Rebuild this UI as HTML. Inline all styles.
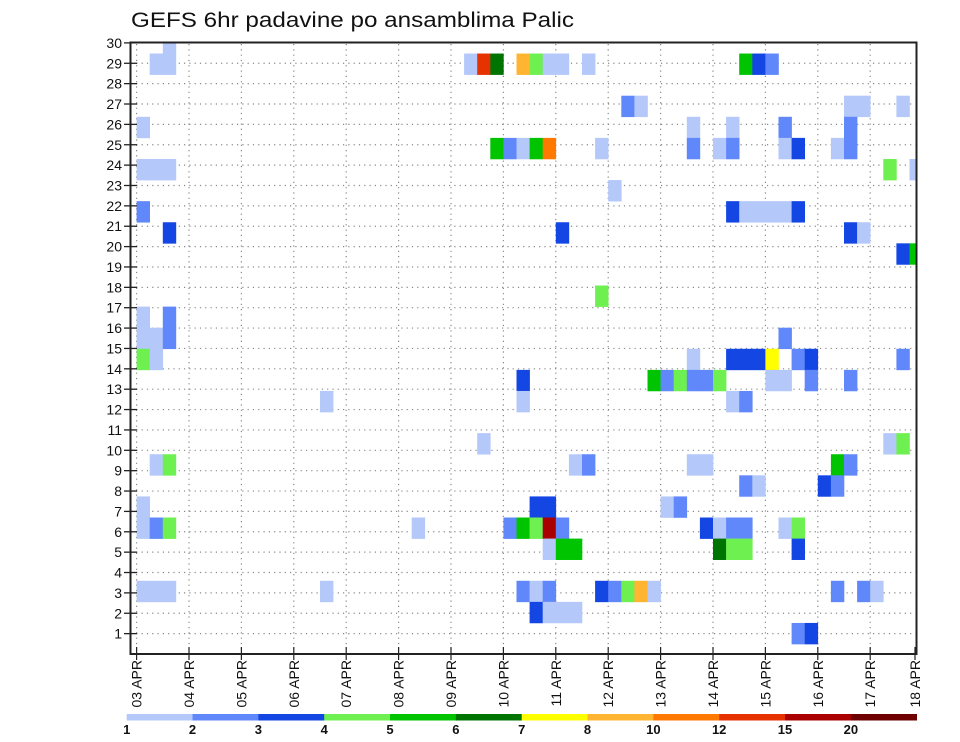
<!DOCTYPE html>
<html><head><meta charset="utf-8"><style>
html,body{margin:0;padding:0;background:#fff;}
svg{display:block;font-family:"Liberation Sans",sans-serif;}
</style></head><body>
<svg id="chart" width="960" height="742" viewBox="0 0 960 742" xmlns="http://www.w3.org/2000/svg">
<text x="131" y="27" font-size="21" textLength="443" lengthAdjust="spacingAndGlyphs" fill="#111">GEFS 6hr padavine po ansamblima Palic</text>
<g id="grid"></g>
<g id="cells" clip-path="url(#plotclip)"></g>
<defs><clipPath id="plotclip"><rect x="131" y="43" width="785" height="611"/></clipPath></defs>
<rect x="130.5" y="42.5" width="786" height="611.5" fill="none" stroke="#222" stroke-width="2"/>
<g id="yaxis"></g>
<g id="xaxis"></g>
<g id="legend"></g>
</svg>
<script>
// ---- data ----
const dayLabels = ["03 APR","04 APR","05 APR","06 APR","07 APR","08 APR","09 APR","10 APR","11 APR","12 APR","13 APR","14 APR","15 APR","16 APR","17 APR","18 APR"];
const yTickLabels = [1,2,3,4,5,6,7,8,9,10,11,12,13,14,15,16,17,18,19,20,21,22,23,24,25,26,27,28,29,30];
const levelLabels = ["1","2","3","4","5","6","7","8","10","12","15","20"];
const levelColors = ["#b4c8fa","#6088fa","#1446e4","#6ef050","#00c400","#007400","#ffff00","#ffb432","#ff7800","#e63200","#aa0000","#6e0000"];
// member index and "step:level" entries (step = 6h interval from 03 APR 00z)
const members = [29,28,26,25,24,23,22,21,20,19,17,16,15,14,13,12,10,9,8,7,6,5,3,2,1];
const memberCells = [
 "2:1",
 "1:1 2:1 25:1 26:10 27:6 29:8 30:4 31:1 32:1 34:1 46:5 47:3 48:2",
 "37:2 38:1 54:1 55:1 58:1",
 "0:1 42:1 45:1 49:2 54:2",
 "27:5 28:2 29:1 30:5 31:9 35:1 42:2 44:1 45:2 49:1 50:3 53:1 54:2",
 "0:1 1:1 2:1 57:4 59:1",
 "36:1",
 "0:2 45:3 46:1 47:1 48:1 49:1 50:3",
 "2:3 32:3 54:3 55:1",
 "58:3 59:5",
 "35:4",
 "0:1 2:2",
 "0:1 1:1 2:2 49:2",
 "0:4 1:1 42:1 45:3 46:3 47:3 48:7 50:2 51:3 58:2",
 "29:3 39:5 40:2 41:4 42:2 43:2 44:4 48:1 49:1 51:2 54:2",
 "14:1 29:1 45:1 46:2",
 "26:1 57:1 58:4",
 "1:1 2:4 33:1 34:2 42:1 43:1 53:5 54:2",
 "46:2 47:1 52:3 53:2",
 "0:1 30:3 31:3 40:1 41:2",
 "0:1 1:2 2:4 21:1 28:2 29:5 30:4 31:11 32:2 43:3 44:1 45:2 46:2 49:1 50:4",
 "31:1 32:5 33:5 44:6 45:4 46:4 50:3",
 "0:1 1:1 2:1 14:1 29:2 30:1 31:2 35:3 36:2 37:4 38:8 39:1 53:2 55:2 56:1",
 "30:3 31:1 32:1 33:1",
 "50:2 51:3"
];
// ---- scales ----
const NS="http://www.w3.org/2000/svg";
const X0=136.6, DAY=52.4, STEP=DAY/4;
function xDay(d){return X0+DAY*d;}
function xStep(i){return X0+STEP*i;}
function yLabel(r){return 654-r*20.37;}
const CELLH=21.09;
function yMember(k){return 633.5-(k-1)*CELLH;}
function mk(tag,attrs,parent){const e=document.createElementNS(NS,tag);for(const k in attrs)e.setAttribute(k,attrs[k]);parent.appendChild(e);return e;}

const grid=document.getElementById('grid');
yTickLabels.forEach(r=>{
  const l=mk('line',{x1:131,x2:916,y1:yLabel(r),y2:yLabel(r),stroke:'#888','stroke-width':1.2,'stroke-dasharray':'1.2 4.1'},grid);
  
  
});
for(let d=0;d<15;d++){
  const l=mk('line',{x1:xDay(d),x2:xDay(d),y1:44,y2:653,stroke:'#888','stroke-width':1.2,'stroke-dasharray':'1.2 4.1'},grid);
  
  
}
const cells=document.getElementById('cells');
members.forEach((k,mi)=>{
  memberCells[mi].split(' ').forEach(s=>{
    const p=s.split(':'); const i=+p[0], lv=+p[1];
    const yc=yMember(k);
    const r=mk('rect',{x:xStep(i),y:yc-CELLH/2,width:STEP+0.3,height:CELLH+0.3,fill:levelColors[lv-1]},cells);
    
    
  });
});
const ya=document.getElementById('yaxis');
yTickLabels.forEach(r=>{
  const y=yLabel(r);
  const t=mk('line',{x1:124,x2:137,y1:y,y2:y,stroke:'#222','stroke-width':1.3},ya);
  
  
  const tx=mk('text',{x:122,y:y+5,'text-anchor':'end','font-size':14,fill:'#111'},ya);
  tx.textContent=r;
  
  
});
const xa=document.getElementById('xaxis');
dayLabels.forEach((lab,d)=>{
  let x=xDay(d); if(d===15)x=915;
  const t=mk('line',{x1:x,x2:x,y1:647,y2:660,stroke:'#222','stroke-width':1.2},xa);
  
  
  const tx=mk('text',{x:0,y:0,'text-anchor':'end','font-size':14,fill:'#111',transform:'translate('+(x+5)+',660) rotate(-90)'},xa);
  tx.textContent=lab;
  
  
});
const lg=document.getElementById('legend');
const LX0=126.7, LW=(916.7-126.7)/12;
levelColors.forEach((c,j)=>{
  const r=mk('rect',{x:LX0+LW*j,y:714,width:LW+0.3,height:6.5,fill:c},lg);
  
  
});
levelLabels.forEach((lab,j)=>{
  const t=mk('text',{x:LX0+LW*j,y:734,'text-anchor':'middle','font-size':13,'font-weight':'bold',fill:'#111'},lg);
  t.textContent=lab;
  
  
});
</script>
</body></html>
